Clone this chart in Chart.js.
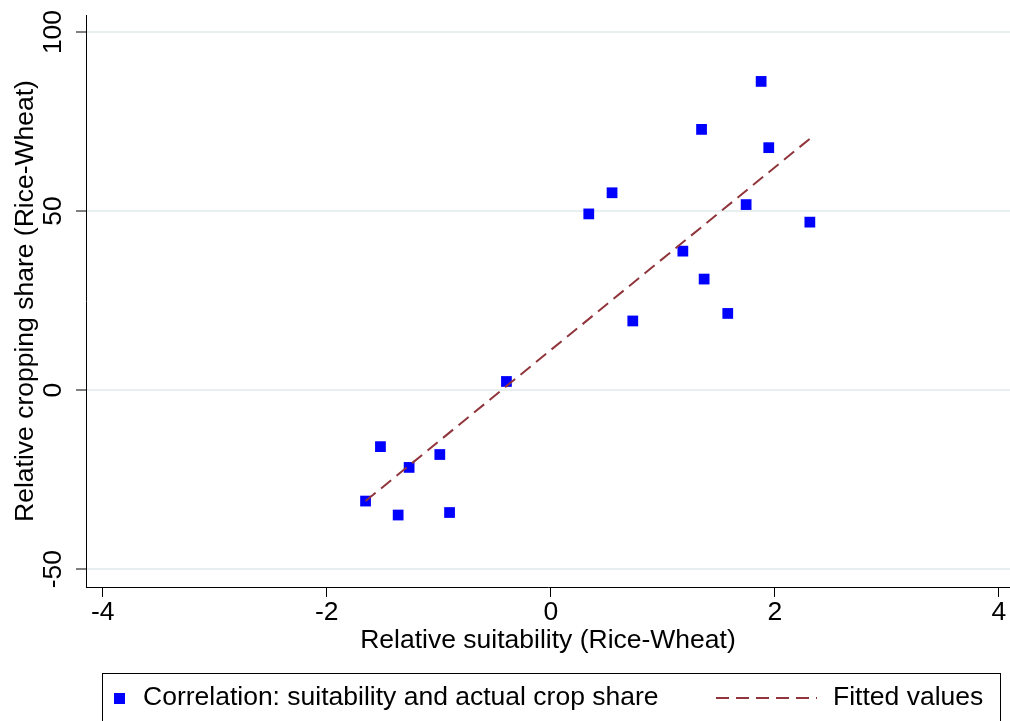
<!DOCTYPE html>
<html>
<head>
<meta charset="utf-8">
<title>Relative suitability vs cropping share</title>
<script src="https://cdn.jsdelivr.net/npm/chart.js@4/dist/chart.umd.min.js"></script>
<style>
    html, body { margin: 0; padding: 0; background: #fff; }
    #wrap { width: 1010px; height: 721px; }
</style>
</head>
<body>
<div id="wrap"><canvas id="grafico" width="1010" height="721"></canvas></div>
<script>
// Datos
const suitability = [1.878, 1.346, 1.946, 0.547, 0.339, 1.744, 2.313, 1.179, 1.369,
                     0.732, 1.580, -0.396, -1.521, -0.991, -1.265, -1.654, -1.363, -0.904];
const cropShare = [86.2, 72.8, 67.7, 55.1, 49.2, 51.8, 46.9, 38.8, 31.0,
                   19.3, 21.4, 2.4, -15.8, -18.0, -21.6, -31.0, -34.9, -34.2];

// Recta ajustada (extremos)
const fittedX = [-1.654, 2.313];
const fittedY = [-31.0, 70.2];

const xTicks = [-4, -2, 0, 2, 4];
const yTicks = [-50, 0, 50, 100];

const seriesLabels = ['Correlation: suitability and actual crop share', 'Fitted values'];
const xTitle = 'Relative suitability (Rice-Wheat)';
const yTitle = 'Relative cropping share (Rice-Wheat)';

const FONT = "'Liberation Sans', Arial, sans-serif";
const FONT_SIZE = 26.5;
const BLUE = '#0000ff';
const MAROON = '#90353b';
const DASH = [13, 7];

Chart.defaults.font.family = FONT;
Chart.defaults.color = '#000';

// Leyenda estilo Stata con recuadro
const leyendaStata = {
    id: 'leyendaStata',
    afterDraw(chart) {
        const ctx = chart.ctx;
        ctx.save();
        ctx.strokeStyle = '#000';
        ctx.lineWidth = 1;
        ctx.strokeRect(102.5, 673.5, 898, 80);

        const yMid = 698;
        ctx.fillStyle = BLUE;
        ctx.fillRect(114, 693, 11, 11);

        ctx.font = FONT_SIZE + 'px ' + FONT;
        ctx.fillStyle = '#000';
        ctx.textBaseline = 'middle';
        ctx.textAlign = 'left';
        ctx.fillText(seriesLabels[0], 143, yMid);

        ctx.strokeStyle = MAROON;
        ctx.lineWidth = 2;
        ctx.setLineDash(DASH);
        ctx.beginPath();
        ctx.moveTo(716, yMid);
        ctx.lineTo(817, yMid);
        ctx.stroke();
        ctx.setLineDash([]);

        ctx.fillText(seriesLabels[1], 833, yMid);
        ctx.restore();
    }
};

const puntos = suitability.map((x, i) => ({ x: x, y: cropShare[i] }));
const ajuste = fittedX.map((x, i) => ({ x: x, y: fittedY[i] }));

new Chart(document.getElementById('grafico'), {
    type: 'scatter',
    data: {
        datasets: [
            {
                label: seriesLabels[0],
                data: puntos,
                pointStyle: 'rect',
                pointRadius: 7.6,
                pointBorderWidth: 0,
                backgroundColor: BLUE,
                borderColor: BLUE,
                order: 2
            },
            {
                label: seriesLabels[1],
                data: ajuste,
                showLine: true,
                pointRadius: 0,
                borderColor: MAROON,
                borderWidth: 2,
                borderDash: DASH,
                order: 1
            }
        ]
    },
    options: {
        responsive: false,
        animation: false,
        events: [],
        layout: { autoPadding: false, padding: { top: 15, right: 0, bottom: 60, left: 0 } },
        plugins: {
            legend: { display: false },
            tooltip: { enabled: false }
        },
        scales: {
            x: {
                type: 'linear',
                min: -4.15,
                max: 4.1,
                afterBuildTicks: s => { s.ticks = xTicks.map(v => ({ value: v })); },
                afterFit: s => { s.height = 74; s.paddingLeft = 0; s.paddingRight = 0; },
                ticks: { padding: 0, font: { size: FONT_SIZE }, maxRotation: 0 },
                grid: { drawOnChartArea: false, tickLength: 10, tickColor: '#000', tickWidth: 1 },
                border: { display: true, color: '#000', width: 1 },
                title: { display: true, text: xTitle, font: { size: FONT_SIZE, lineHeight: 1.2 }, padding: { top: 0, bottom: 4 } }
            },
            y: {
                type: 'linear',
                min: -55,
                max: 104.75,
                afterBuildTicks: s => { s.ticks = yTicks.map(v => ({ value: v })); },
                afterFit: s => { s.width = 86; s.paddingTop = 0; s.paddingBottom = 0; },
                ticks: { padding: 0, font: { size: FONT_SIZE }, minRotation: 90, maxRotation: 90, crossAlign: 'center' },
                grid: { color: '#e8eff1', lineWidth: 2, tickLength: 10, tickColor: '#000', tickWidth: 1 },
                border: { display: true, color: '#000', width: 1 },
                title: { display: true, text: yTitle, font: { size: FONT_SIZE, lineHeight: 1.2 }, padding: { top: 10, bottom: 0 } }
            }
        }
    },
    plugins: [leyendaStata]
});
</script>
</body>
</html>
